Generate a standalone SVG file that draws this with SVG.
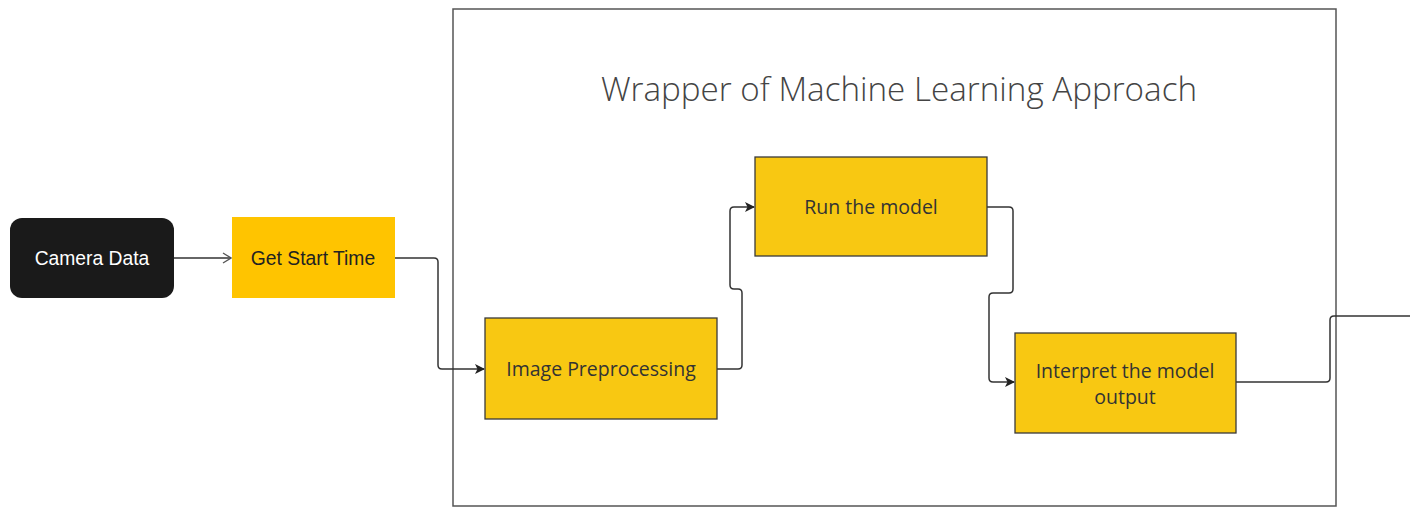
<svg xmlns="http://www.w3.org/2000/svg" width="1410" height="508" viewBox="0 0 1410 508">
<style>
.box{fill:#f8c812;stroke:#3a3a3a;stroke-width:1.3}
.os{font-family:"Open Sans","Noto Sans",sans-serif;fill:#333;font-size:19.5px;text-anchor:middle}
.ar{font-family:"Liberation Sans",Arial,sans-serif;font-size:19.3px;text-anchor:middle}
.c{fill:none;stroke:#333;stroke-width:1.5}
</style>
<defs>
<marker id="fa" markerWidth="10" markerHeight="10" refX="9" refY="5" orient="auto" markerUnits="userSpaceOnUse">
<path d="M0,0 L10,5 L0,10 L2.5,5 Z" fill="#222"/>
</marker>
<marker id="oa" markerWidth="10" markerHeight="12" refX="9" refY="6" orient="auto" markerUnits="userSpaceOnUse">
<path d="M1,1 L9,6 L1,11" fill="none" stroke="#555" stroke-width="1.3"/>
</marker>
</defs>
<rect width="1410" height="508" fill="#fff"/>
<g id="wrapper">
<rect x="453" y="9" width="883" height="497" fill="#fff" stroke="#555" stroke-width="1.5"/>
<text x="899" y="101" font-family="'Open Sans','Noto Sans',sans-serif" font-weight="300" font-size="33.2" fill="#444" text-anchor="middle">Wrapper of Machine Learning Approach</text>
</g>
<g id="connectors">
<path class="c" d="M174,258 L231,258" stroke="#555" stroke-width="1.2" marker-end="url(#oa)"/>
<path class="c" d="M395,258 L434,258 Q438,258 438,262 L438,365 Q438,369 442,369 L484,369" marker-end="url(#fa)"/>
<path class="c" d="M717,369 L738,369 Q742,369 742,365 L742,293 Q742,289 738,289 L734,289 Q730,289 730,285 L730,211 Q730,207 734,207 L754,207" marker-end="url(#fa)"/>
<path class="c" d="M987,207 L1009,207 Q1013,207 1013,211 L1013,289 Q1013,293 1009,293 L993,293 Q989,293 989,297 L989,378 Q989,382 993,382 L1014,382" marker-end="url(#fa)"/>
<path class="c" d="M1236,382 L1326,382 Q1330,382 1330,378 L1330,320 Q1330,316 1334,316 L1410,316"/>
</g>
<g id="camera-data">
<rect x="10" y="218" width="164" height="80" rx="12" fill="#1a1a1a"/>
<text class="ar" x="92" y="265" fill="#fff" font-size="19.5">Camera Data</text>
</g>
<g id="get-start-time">
<rect x="232" y="217" width="163" height="81" fill="#ffc400"/>
<text class="ar" x="313" y="265" fill="#222">Get Start Time</text>
</g>
<g id="image-preprocessing">
<rect class="box" x="485" y="318" width="232" height="101"/>
<text class="os" x="601" y="376">Image Preprocessing</text>
</g>
<g id="run-the-model">
<rect class="box" x="755" y="157" width="232" height="99"/>
<text class="os" x="871" y="214">Run the model</text>
</g>
<g id="interpret">
<rect class="box" x="1015" y="333" width="221" height="100"/>
<text class="os" x="1125" y="378">Interpret the model</text>
<text class="os" x="1125" y="404">output</text>
</g>
</svg>
